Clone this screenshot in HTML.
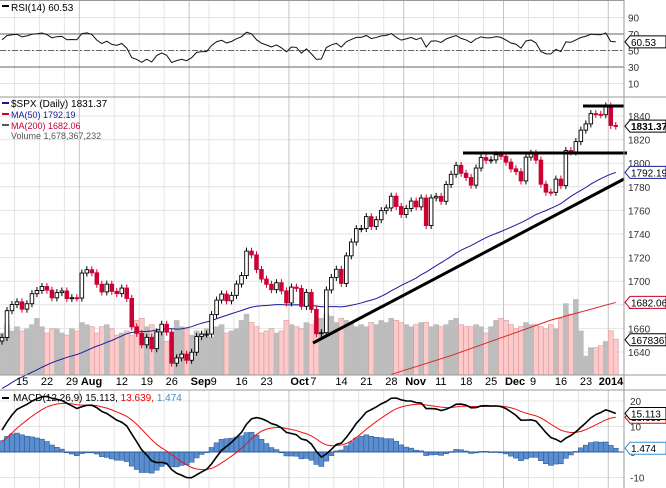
<!DOCTYPE html>
<html><head><meta charset="utf-8"><style>
html,body{margin:0;padding:0;background:#fff;}
svg{display:block;font-family:"Liberation Sans",sans-serif;}
</style></head><body>
<svg id="chart" width="666" height="488" viewBox="0 0 666 488" xmlns="http://www.w3.org/2000/svg">
<g id="grid"></g>
<g id="vol"></g>
<g id="marks"></g>
<g id="ind"></g>
<g id="frame"></g>
<g id="labels"></g>
</svg>
<script>
// ---- data ----
const priorCloses=[1557,1542,1557,1574,1578,1586,1592,1586,1593,1593,1611,1618,1610,1627,1627,1629,1615,1610,1610,1620,1608,1614,1591,1600,1591,1608,1622,1643,1643,1626,1612,1636,1626,1639,1651,1628,1588,1592,1573,1588,1603,1613,1606,1614,1614,1615,1631,1640,1652];
const closes=[1652.3,1675.0,1680.2,1682.5,1676.3,1680.9,1689.4,1692.1,1695.5,1692.4,1685.9,1690.3,1691.7,1685.3,1686.0,1685.7,1706.9,1709.7,1707.1,1697.4,1690.9,1697.5,1691.4,1689.5,1694.2,1685.4,1661.3,1655.8,1646.1,1652.4,1642.8,1657.0,1663.5,1656.8,1630.5,1635.0,1638.2,1633.0,1639.8,1653.1,1655.1,1655.2,1671.7,1684.0,1689.1,1683.4,1688.0,1697.6,1704.8,1725.5,1722.3,1709.9,1701.8,1697.4,1692.8,1698.7,1691.8,1681.6,1695.0,1693.9,1678.7,1690.5,1676.1,1655.5,1656.4,1692.6,1703.2,1710.1,1698.1,1721.5,1733.2,1744.5,1744.7,1754.7,1746.4,1752.1,1759.8,1762.1,1772.0,1763.3,1756.5,1761.6,1767.9,1763.0,1770.5,1747.2,1770.6,1771.9,1767.7,1782.0,1790.6,1798.2,1791.5,1787.9,1781.4,1795.9,1804.8,1802.5,1802.8,1807.2,1805.8,1800.9,1795.2,1792.8,1785.0,1805.1,1808.4,1802.6,1782.2,1775.5,1775.3,1786.5,1781.0,1810.7,1809.6,1818.3,1828.0,1833.3,1842.0,1841.4,1841.1,1848.4,1832.0,1831.4];
const volumes=[2.0,2.4,2.1,2.3,2.1,2.2,2.4,2.7,2.3,2.0,2.2,2.2,2.0,1.9,2.2,2.1,2.5,2.4,2.3,2.0,2.3,2.4,2.2,1.9,2.0,2.1,1.9,2.6,2.7,2.3,2.4,2.1,2.0,1.6,1.7,2.6,2.3,2.2,1.9,2.1,2.0,2.2,1.8,2.3,2.4,2.0,2.1,2.2,2.6,2.9,2.5,2.3,2.0,2.1,2.2,2.0,2.1,2.6,2.4,2.3,2.2,2.5,2.4,2.6,2.7,2.9,2.8,2.5,2.7,2.6,2.5,2.3,2.4,2.3,2.5,2.4,2.6,2.5,2.7,2.6,2.5,2.4,2.3,2.4,2.5,2.5,2.3,2.4,2.3,2.4,2.6,2.7,2.4,2.3,2.3,2.4,2.3,2.0,2.3,2.6,2.7,2.6,2.4,2.2,2.3,2.5,2.4,2.4,2.3,2.2,2.4,2.2,2.7,3.4,2.9,3.6,2.1,0.9,1.3,1.3,1.4,1.6,2.1,1.7];
const ma200Idx=[78,90,100,110,123];
const ma200Vals=[1621,1637,1652,1667,1682];
const priceTicks=[1640,1660,1680,1700,1720,1740,1760,1780,1800,1820,1840];
const rsiTicks=[90,70,50,30,10];
const macdTicks=[20,10,0,-10];
const dateIdx=[3,8,13,16,23,28,33,38,42,47,52,58,62,67,72,77,81,87,92,97,101,106,111,116,122];
const dateLabels=["15","22","29","Aug","12","19","26","Sep","9","16","23","Oct","7","14","21","28","Nov","11","18","25","Dec","9","16","23","2014"];
const monthIdx=[16,38,58,81,101,122];

// ---- scales ----
const NS="http://www.w3.org/2000/svg";
const PR=624;
const x=v=>2+v*4.99;
const yP=p=>116+(1840-p)*1.18;
const yR=r=>34+(70-r)*0.825;
const yM=m=>452-m*2.55;
const yV=v=>375-v*21;
function el(tag,attrs,parent,txt){const e=document.createElementNS(NS,tag);for(const k in attrs)e.setAttribute(k,attrs[k]);if(txt!==undefined)e.textContent=txt;parent.appendChild(e);return e;}
const G=id=>document.getElementById(id);

// ---- computed indicators ----
const all=priorCloses.concat(closes);const off=priorCloses.length;
const ma50=closes.map((c,i)=>{let s=0;for(let k=i+off-49;k<=i+off;k++)s+=all[k];return s/50;});
function ema(arr,n){const a=2/(n+1);const out=[arr[0]];for(let i=1;i<arr.length;i++)out.push(arr[i]*a+out[i-1]*(1-a));return out;}
const e12=ema(all,12),e26=ema(all,26);const macdAll=all.map((_,i)=>e12[i]-e26[i]);const sigAll=ema(macdAll,9);
const macd=macdAll.slice(off),sig=sigAll.slice(off),hist=macd.map((m,i)=>m-sig[i]);
const rsiAll=[];let ag=0,al=0;
for(let i=1;i<all.length;i++){const d=all[i]-all[i-1];const g=Math.max(d,0),l=Math.max(-d,0);
 if(i<=14){ag+=g/14;al+=l/14;}else{ag=(ag*13+g)/14;al=(al*13+l)/14;}
 rsiAll[i]=100-100/(1+ag/(al||1e-9));}
const rsi=rsiAll.slice(off);

// ---- grid ----
const grid=G('grid');
rsiTicks.forEach(t=>{const l=el('line',{x1:0,x2:PR,y1:yR(t),y2:yR(t),stroke:'#e4e4e4'},grid);});
priceTicks.forEach(t=>{const l=el('line',{x1:0,x2:PR,y1:yP(t),y2:yP(t),stroke:'#e4e4e4'},grid);});
macdTicks.forEach(t=>{const l=el('line',{x1:0,x2:PR,y1:yM(t),y2:yM(t),stroke:'#e4e4e4'},grid);});
dateIdx.forEach(v=>{const xx=x(v)-2.5;const m=monthIdx.includes(v);
 [[0,97],[97,375],[390,488]].forEach(([a,b])=>{const l=el('line',{x1:xx,x2:xx,y1:a,y2:b,stroke:m?'#c4c4c4':'#e4e4e4'},grid);});});

// ---- volume ----
const vg=G('vol');
volumes.forEach((v,i)=>{const down=i>0&&closes[i]<closes[i-1];
 const r=el('rect',{x:x(i)-2.5,y:yV(v),width:5,height:375-yV(v),fill:down?'#fccaca':'#bdbdbd',stroke:down?'#d99a9a':'#bdbdbd','stroke-width':0.6},vg);
 });

// ---- MAs ----
const mg=G('marks');
const p50=el('polyline',{points:ma50.map((m,i)=>x(i)+','+yP(m)).join(' '),fill:'none',stroke:'#1a1a99','stroke-width':1},mg);

const p200=el('polyline',{points:ma200Idx.map((v,i)=>x(v)+','+yP(ma200Vals[i])).join(' '),fill:'none',stroke:'#dd2222','stroke-width':1},mg);


// ---- candles ----
closes.forEach((c,i)=>{const o=i>0?closes[i-1]:c-3;const up=c>=o;const hi=Math.max(o,c)+3,lo=Math.min(o,c)-3;
 const col=up?'#000':'#cc0033';
 const w=el('line',{x1:x(i),x2:x(i),y1:yP(hi),y2:yP(lo),stroke:col,'stroke-width':1},mg);
 
 const top=yP(Math.max(o,c)),h=Math.max(1,yP(Math.min(o,c))-top);
 const b=el('rect',{x:x(i)-1.8,y:top,width:3.6,height:h,fill:up?'#fff':'#cc0033',stroke:col,'stroke-width':0.9},mg);
 });

// trendlines
const tl=el('line',{x1:313,y1:343,x2:624,y2:179,stroke:'#000','stroke-width':3},mg);
const h1=el('line',{x1:463,y1:153,x2:627,y2:153,stroke:'#000','stroke-width':3},mg);
const h2=el('line',{x1:583,y1:106,x2:624,y2:106,stroke:'#000','stroke-width':3},mg);

// ---- RSI ----
const ig=G('ind');
[[70,'none'],[30,'none'],[50,'6,2,2,2']].forEach(([t,d])=>{const l=el('line',{x1:0,x2:PR,y1:yR(t),y2:yR(t),stroke:'#666','stroke-dasharray':d},ig);});
const rl=el('polyline',{points:rsi.map((r,i)=>x(i)+','+yR(r)).join(' '),fill:'none',stroke:'#111','stroke-width':1},ig);


// ---- MACD ----
hist.forEach((h,i)=>{const y0=yM(0),y1=yM(h);
 const r=el('rect',{x:x(i)-2.5,y:Math.min(y0,y1),width:5,height:Math.max(0.8,Math.abs(y1-y0)),fill:'#5b8ed0',stroke:'#2d5f9a','stroke-width':0.6},ig);
 });
const z=el('line',{x1:0,x2:PR,y1:yM(0),y2:yM(0),stroke:'#2d5f9a'},ig);
const sl=el('polyline',{points:sig.map((m,i)=>x(i)+','+yM(m)).join(' '),fill:'none',stroke:'#ee1111','stroke-width':1},ig);

const ml=el('polyline',{points:macd.map((m,i)=>x(i)+','+yM(m)).join(' '),fill:'none',stroke:'#000','stroke-width':1.6},ig);


// ---- frame ----
const fg=G('frame');
[[0,0.5,PR,0.5],[0,97,666,97],[0,375,666,375],[0,390,666,390],[PR,0,PR,488]].forEach(a=>{const l=el('line',{x1:a[0],y1:a[1],x2:a[2],y2:a[3],stroke:'#999'},fg);});

// ---- labels ----
const lg=G('labels');
function txt(name,xx,yy,s,opt){const t=el('text',Object.assign({x:xx,y:yy,'font-size':11,fill:'#000'},opt||{}),lg,s);return t;}
rsiTicks.forEach(t=>txt('rsi-tick',628,yR(t)+4,String(t),{fill:'#333','font-size':10}));
priceTicks.forEach(t=>txt('price-tick',628,yP(t)+4,String(t),{fill:'#333','font-size':10}));
macdTicks.forEach(t=>txt('macd-tick',630,yM(t)+4,String(t),{fill:'#333','font-size':10}));
dateIdx.forEach((v,i)=>{const m=monthIdx.includes(v);txt('date-label',x(v)+(v===122?-12:-1),385,dateLabels[i],{'font-size':11,'font-weight':m?'bold':'normal','text-anchor':'start'});});
txt('rsi-legend',11,11,'RSI(14) 60.53',{'font-size':10});
txt('price-legend',11,107,'$SPX (Daily) 1831.37',{'font-size':10});
txt('ma50-legend',11,118,'MA(50) 1792.19',{'font-size':9,fill:'#1a1a99'});
txt('ma200-legend',11,129,'MA(200) 1682.06',{'font-size':9,fill:'#cc0033'});
txt('volume-legend',11,139,'Volume 1,678,367,232',{'font-size':9,fill:'#555'});
const mlg=txt('macd-legend',13,401,'',{'font-size':10});
[['MACD(12,26,9) 15.113, ','#000'],['13.639, ','#e00'],['1.474','#3a8fd0']].forEach(([s,c])=>{el('tspan',{fill:c},mlg,s);});
[[2,5,'#000'],[2,102,'#1a1a99'],[2,113,'#cc0033'],[2,124,'#555'],[2,397,'#000']].forEach(([a,b,c])=>{const r=el('rect',{x:a,y:b,width:7,height:2,fill:c},lg);});
function tag(name,yy,s,col,bold){const g=el('g',{},lg);
 el('path',{d:`M625,${yy} L630,${yy-6} L666,${yy-6} L666,${yy+6} L630,${yy+6} Z`,fill:'#fff',stroke:col},g);
 el('text',{x:631,y:yy+4,'font-size':10,fill:'#000','font-weight':bold?'bold':'normal'},g,s);}
tag('rsi-value-tag',yR(60.53),'60.53','#000');
tag('ma200-tag',yP(1682.06),'1682.06','#cc0033');
tag('volume-tag',yV(1.678),'1678367','#000');
tag('ma50-tag',yP(1792.19),'1792.19','#1a1a99');
tag('price-tag',yP(1831.37),'1831.37','#000',true);
tag('signal-tag',yM(13.639),'13.639','#e00');
tag('macd-tag',yM(15.113),'15.113','#000');
tag('histogram-tag',yM(1.474),'1.474','#3a8fd0');
</script>
</body></html>
